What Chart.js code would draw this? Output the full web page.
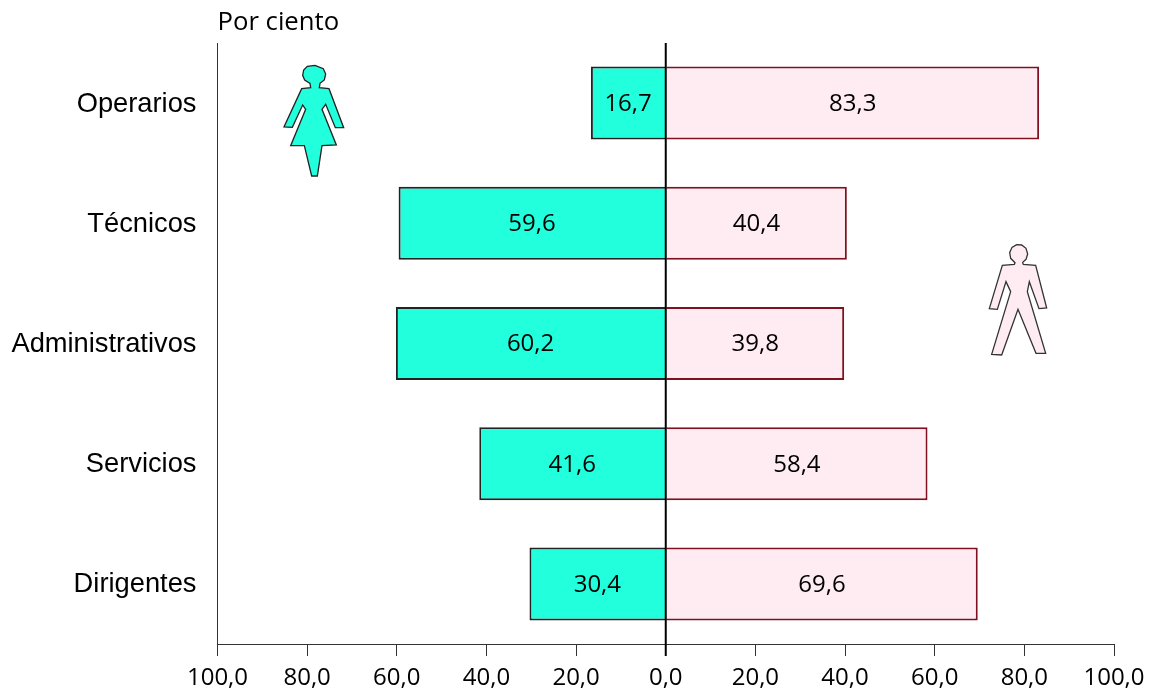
<!DOCTYPE html>
<html><head><meta charset="utf-8">
<script src="https://cdn.jsdelivr.net/npm/chart.js@4"></script>
<style>html,body{margin:0;padding:0;background:#fff}canvas{display:block}</style>
</head><body><canvas id="c" width="1152" height="693"></canvas>
<script>
const categories = ["Operarios","Técnicos","Administrativos","Servicios","Dirigentes"];
const mujeres = [16.7,59.6,60.2,41.6,30.4];
const hombres = [83.3,40.4,39.8,58.4,69.6];
const unitLabel = "Por ciento";
const MYRIAD = '"Open Sans"';
const fmt = v => Math.abs(v).toFixed(1).replace('.',',');

// decorative pictograms, in pixels of the 3x crop
const womanShape = [[150,100],[152,113],[125,116],[72,231],[97,232],[128,165],[137,178],[92,287],[133,287],[155,378],[172,378],[186,287],[229,285],[186,178],[197,163],[226,233],[251,233],[207,116],[178,113],[180,100],[193,90],[197,72],[190,56],[165,46],[142,49],[131,60],[128,76],[134,90]];
const manShape = [[135,98],[133,103],[97,106],[58,236],[82,238],[108,155],[122,185],[65,373],[95,375],[144,238],[198,370],[227,370],[172,185],[178,155],[207,236],[230,234],[197,106],[160,103],[158,97],[168,88],[173,72],[168,55],[155,45],[140,44],[126,52],[119,68],[122,85]];

function drawShape(ctx, pts, ox, oy, fill, stroke){
  ctx.beginPath();
  pts.forEach((p,i)=>{const x=ox+p[0]/3,y=oy+p[1]/3; i?ctx.lineTo(x,y):ctx.moveTo(x,y);});
  ctx.closePath();
  ctx.fillStyle=fill;ctx.fill();
  ctx.lineWidth=1.3;ctx.strokeStyle=stroke;ctx.stroke();
}

const overlay = {
  id:'overlay',
  afterDatasetsDraw(chart){
    const {ctx,scales:{x},chartArea:a}=chart;
    ctx.save();
    const x0=x.getPixelForValue(0);
    ctx.beginPath();ctx.moveTo(x0,a.top);ctx.lineTo(x0,a.bottom+12);
    ctx.lineWidth=2;ctx.strokeStyle='#000';ctx.stroke();
    ctx.fillStyle='#000';ctx.textAlign='center';ctx.textBaseline='middle';
    ctx.font='24px '+MYRIAD;
    chart.data.datasets.forEach((d,di)=>{
      chart.getDatasetMeta(di).data.forEach((bar,i)=>{
        const c=bar.getCenterPoint();
        ctx.fillText(fmt(d.data[i]),c.x,c.y+1);
      });
    });
    ctx.textAlign='left';ctx.textBaseline='alphabetic';
    ctx.font='25.7px '+MYRIAD;
    ctx.fillText(unitLabel,a.left,30);
    drawShape(ctx,womanShape,260,50,'#22ffdd','#222');
    drawShape(ctx,manShape,970,230,'#ffecf2','#333');
    ctx.restore();
  }
};

new Chart(document.getElementById('c'),{
  type:'bar',
  data:{labels:categories,datasets:[
    {label:'Mujeres',data:mujeres.map(v=>-v),backgroundColor:'#22ffdd',borderColor:'#222',borderWidth:2,barPercentage:0.607,categoryPercentage:1},
    {label:'Hombres',data:hombres,backgroundColor:'#ffecf2',borderColor:'#7f1020',borderWidth:2,barPercentage:0.607,categoryPercentage:1}
  ]},
  options:{
    indexAxis:'y',responsive:false,animation:false,
    layout:{padding:{top:43,right:38,left:0,bottom:0}},
    plugins:{legend:{display:false},title:{display:false},tooltip:{enabled:false}},
    scales:{
      x:{type:'linear',min:-100,max:100,stacked:true,
        afterFit(s){s.height=49;s.paddingRight=0;s.paddingLeft=0;},
        grid:{drawOnChartArea:false,drawTicks:true,tickLength:12,color:'#333',lineWidth:1},
        border:{display:true,color:'#333',width:1},
        ticks:{stepSize:20,maxRotation:0,autoSkip:false,padding:8,color:'#000',
          font:c=>({family:MYRIAD,size:24,weight:c.tick&&c.tick.value===0?'500':'400'}),
          callback:v=>fmt(v)}
      },
      y:{stacked:true,
        afterFit(s){s.width=217.5;},
        grid:{display:false},
        border:{display:true,color:'#333',width:1},
        ticks:{padding:13,labelOffset:1,color:'#000',font:{family:'"Liberation Sans"',size:27.3}}
      }
    }
  },
  plugins:[overlay]
});
</script></body></html>
